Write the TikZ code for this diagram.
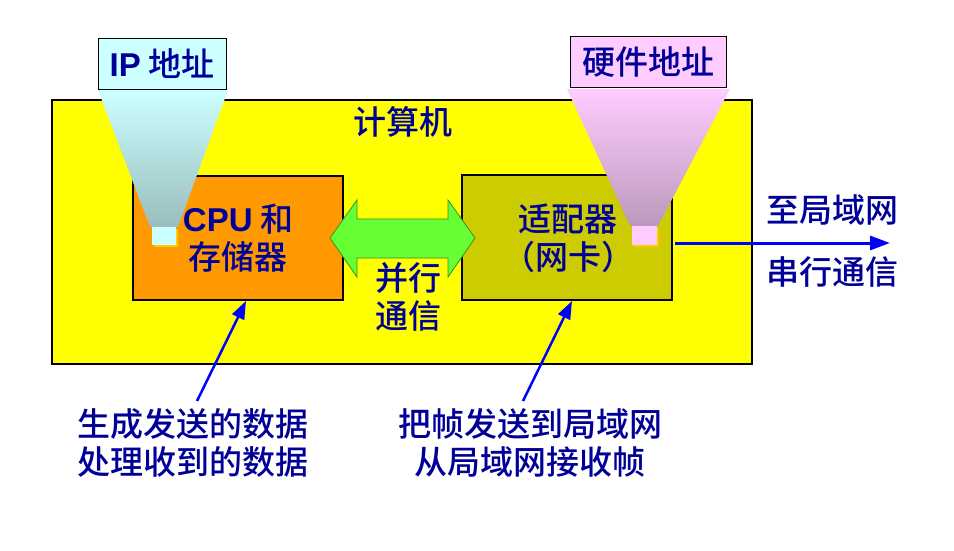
\documentclass[tikz,border=0pt]{standalone}
\usepackage{fontspec}
\setmainfont{Liberation Sans}
\newfontfamily\cjk{Noto Sans CJK SC}[BoldFont={Noto Sans CJK SC Medium}]
\usetikzlibrary{arrows.meta}
\definecolor{cyel}{HTML}{FFFF00}
\definecolor{corange}{HTML}{FF9900}
\definecolor{colive}{HTML}{CCCC00}
\definecolor{cgreen}{HTML}{66FF33}
\definecolor{cgreenb}{HTML}{3C8C28}
\definecolor{cnavy}{HTML}{000099}
\definecolor{cblue}{HTML}{0000FF}
\definecolor{ccyan}{HTML}{CCFFFF}
\definecolor{ccyand}{HTML}{99BDBD}
\definecolor{cpink}{HTML}{FFCCFF}
\definecolor{cpinkd}{HTML}{BB99BB}
\definecolor{cshadow}{HTML}{FFCC00}
\begin{document}
\begin{tikzpicture}[x=1pt,y=-1pt,
  txt/.style={text=cnavy,font=\fontsize{33}{38}\selectfont\bfseries\cjk,align=center,inner sep=0pt},
  box/.style={draw=black,line width=1.2pt},
  blk/.style={draw=cblue,line width=3pt,-{Triangle[length=20pt,width=14pt]}},
  tag/.style={draw=black,line width=1pt,minimum height=51pt,text=cnavy,font=\fontsize{33}{36}\selectfont\bfseries\cjk}
]
\useasboundingbox[fill=white] (0,0) rectangle (954,550);
% computer
\path[fill=cyel,box] (52,100) rectangle (752,364);
\node[txt] (comp) at (403,122) {计算机};
% CPU box
\path[fill=corange,box] (133,176) rectangle (343,300);
\node[inner sep=0pt,minimum width=210pt,minimum height=124pt] (cpu) at (238,238) {};
% adapter box
\path[fill=colive,box] (462,175) rectangle (672,300);
\node[inner sep=0pt,minimum width=210pt,minimum height=125pt] (nic) at (567,237.5) {};
% double arrow
\path[fill=cgreen,draw=cgreenb,line width=0.8pt] (330,238) -- (357,200) -- (357,219) -- (448,219) -- (448,200) -- (475,238) -- (448,277) -- (448,258) -- (357,258) -- (357,277) -- cycle;
% funnels
\shade[top color=ccyan,bottom color=ccyand] (98,90) -- (228,90) -- (178,227) -- (150,227) -- cycle;
\shade[top color=cpink,bottom color=cpinkd] (567,89) -- (730,89) -- (658,226) -- (630,226) -- cycle;
% small squares
\fill[cshadow] (154,229) rectangle (178,247);
\fill[ccyan] (152,227) rectangle (176,245);
\fill[cshadow] (634,228) rectangle (659,247);
\fill[cpink] (632,226) rectangle (657,245);
\coordinate (ipport) at (164,236);
\coordinate (hwport) at (657,243);
% tags
\node[tag,fill=ccyan,minimum width=128pt] (ip) at (162,64) {\textbf{\rmfamily IP} 地址};
\node[tag,fill=cpink,minimum width=156pt] (hw) at (648,62) {硬件地址};
% texts
\node[txt] (cputxt) at (238,238) {\textbf{\rmfamily CPU} 和\\存储器};
\node[txt] (nictxt) at (568,238) {适配器\\（网卡）};
\node[txt] (par) at (408,297) {并行\\通信};
% serial
\coordinate (lan) at (890,243);
\draw[blk] (hwport) ++(18,0) coordinate (out) -- (lan);
\node[txt] (to) at (832,210) {至局域网};
\node[txt] (ser) at (832,272) {串行通信};
% bottom
\node[txt] (gen) at (193,443) {生成发送的数据\\处理收到的数据};
\node[txt] (fr) at (530,443) {把帧发送到局域网\\从局域网接收帧};
\coordinate (g1) at (197,401);
\coordinate (f1) at (523,401);
\draw[blk,line width=2.5pt,-{Triangle[length=18pt,width=13pt]}] (g1) -- (246,301);
\draw[blk,line width=2.5pt,-{Triangle[length=18pt,width=13pt]}] (f1) -- (572,301);
\end{tikzpicture}
\end{document}
